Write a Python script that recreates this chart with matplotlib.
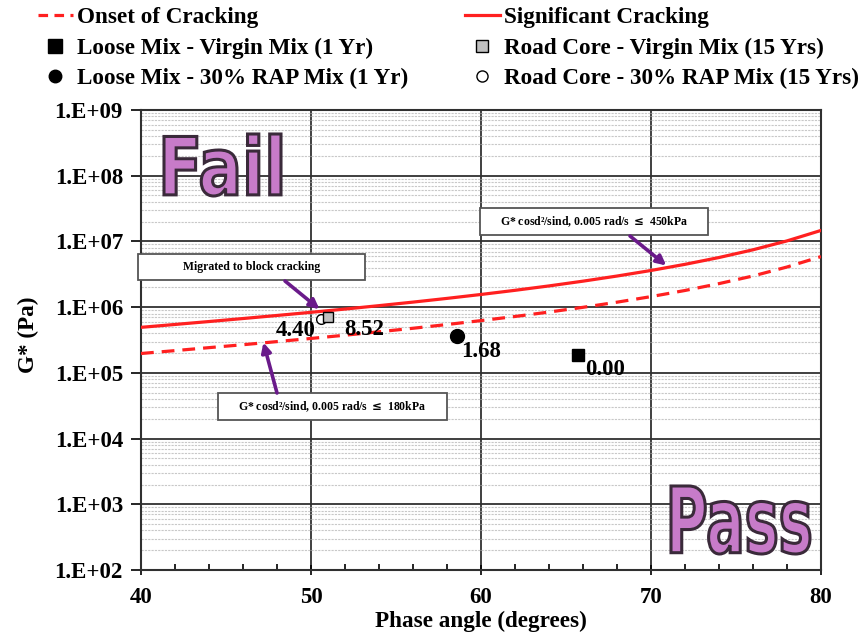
import math
import matplotlib
matplotlib.use("Agg")
import matplotlib.pyplot as plt
from matplotlib.lines import Line2D
from matplotlib.patches import Rectangle, PathPatch
from matplotlib.textpath import TextPath
from matplotlib.font_manager import FontProperties
from matplotlib.transforms import Affine2D, IdentityTransform
from matplotlib.ticker import FixedLocator, FuncFormatter, LogLocator, NullFormatter

# ---- data ----
phase = [40, 42, 44, 46, 48, 50, 52, 54, 56, 58, 60, 62, 64, 66, 68, 70, 72, 74, 76, 78, 80]
significant = [4.93e5, 5.45e5, 6.04e5, 6.71e5, 7.47e5, 8.34e5, 9.35e5, 1.054e6, 1.193e6, 1.359e6,
               1.559e6, 1.803e6, 2.104e6, 2.485e6, 2.974e6, 3.614e6, 4.482e6, 5.69e6, 7.46e6,
               1.019e7, 1.470e7]
onset = [1.97e5, 2.18e5, 2.42e5, 2.68e5, 2.99e5, 3.34e5, 3.74e5, 4.22e5, 4.77e5, 5.44e5,
         6.24e5, 7.21e5, 8.42e5, 9.94e5, 1.19e6, 1.446e6, 1.793e6, 2.28e6, 2.98e6, 4.08e6, 5.88e6]

loose_virgin = (65.7, 1.9e5)
loose_rap = (58.6, 3.6e5)
core_virgin = (51.0, 7.2e5)
core_rap = (50.6, 6.6e5)
labels_pts = ["0.00", "1.68", "8.52", "4.40"]

W, H = 865, 639
serif = ["Liberation Serif", "DejaVu Serif"]
plt.rcParams["font.family"] = serif
plt.rcParams["font.weight"] = "bold"
FS = 16.7

fig = plt.figure(figsize=(W / 100, H / 100), dpi=100)
ax = fig.add_axes([141 / W, 1 - 570 / H, (821 - 141) / W, (570 - 110) / H])

ax.set_xlim(40, 80)
ax.set_yscale("log")
ax.set_ylim(1e2, 1e9)

# grid
ax.yaxis.set_minor_locator(LogLocator(base=10, subs=range(2, 10), numticks=20))
ax.yaxis.set_minor_formatter(NullFormatter())
ax.grid(which="minor", axis="y", color="#c8c8c8", linestyle=(0, (2, 1)), linewidth=0.8)
ax.grid(which="major", axis="both", color="#303030", linewidth=1.3)
ax.xaxis.set_major_locator(FixedLocator([40, 50, 60, 70, 80]))
ax.xaxis.set_minor_locator(FixedLocator([x for x in range(42, 80, 2) if x % 10]))
ax.tick_params(axis="x", which="minor", direction="in", length=4, width=1.2)
ax.tick_params(axis="y", which="minor", length=0)
ax.tick_params(axis="both", which="major", length=7, width=1.2, labelsize=16.5)
ax.tick_params(axis="x", which="major", direction="inout", pad=9)
ax.tick_params(axis="y", which="major", direction="out", pad=6)
ax.yaxis.set_major_formatter(FuncFormatter(lambda v, p: "1.E+%02d" % round(math.log10(v))))
for s in ax.spines.values():
    s.set_color("#303030")
    s.set_linewidth(1.5)

# curves
ax.plot(phase, onset, color="#ff2020", linestyle=(0, (4, 2.5)), linewidth=2.3, zorder=3)
ax.plot(phase, significant, color="#ff2020", linewidth=2.3, zorder=3)

# points
ax.plot(*loose_virgin, marker="s", color="black", markersize=9, linestyle="none", zorder=4)
ax.plot(*loose_rap, marker="o", color="black", markersize=10, linestyle="none", zorder=4)
ax.plot(*core_rap, marker="o", mfc="white", mec="black", markersize=7, linestyle="none", zorder=4)
ax.plot(*core_virgin, marker="s", mfc="#c0c0c0", mec="black", markersize=7, linestyle="none", zorder=5)

lab_kw = dict(fontsize=16.5, fontweight="bold", zorder=6)
ax.annotate(labels_pts[0], loose_virgin, xytext=(5, -15), textcoords="offset points", **lab_kw)
ax.annotate(labels_pts[1], loose_rap, xytext=(3, -15), textcoords="offset points", **lab_kw)
ax.annotate(labels_pts[2], core_virgin, xytext=(12, -13), textcoords="offset points", **lab_kw)
ax.annotate(labels_pts[3], core_rap, xytext=(-33, -12), textcoords="offset points", **lab_kw)

# annotation boxes (axes-fraction geometry)
def fx(px):
    return (px - 141) / 680.0

def fy(py):
    return (570 - py) / 460.0

arrow = dict(arrowstyle="-|>", color="#6a1a8a", lw=2.6, mutation_scale=14, shrinkA=0, shrinkB=0)

def note(text, x0, y0, x1, y1, tail, head):
    ax.add_patch(Rectangle((fx(x0), fy(y1)), fx(x1) - fx(x0), fy(y0) - fy(y1),
                           transform=ax.transAxes, fc="white", ec="#555555", lw=1.3,
                           zorder=7, clip_on=False))
    ax.text((fx(x0) + fx(x1)) / 2, (fy(y0) + fy(y1)) / 2, text, transform=ax.transAxes,
            ha="center", va="center", fontsize=8.5, zorder=8)
    ax.annotate("", xy=head, xycoords="data", xytext=(fx(tail[0]), fy(tail[1])),
                textcoords="axes fraction", arrowprops=arrow, zorder=8)

note("Migrated to block cracking", 138, 254, 365, 280, (285, 281), (50.5, 9.3e5))
note(r"G* cosd²/sind, 0.005 rad/s $\leq$ 180kPa", 218, 393, 447, 420, (277, 393), (47.2, 2.9e5))
note(r"G* cosd²/sind, 0.005 rad/s $\leq$ 450kPa", 480, 208, 708, 235, (630, 236), (70.9, 4.3e6))

# Fail / Pass as outlined, condensed text paths placed in pixel boxes
fp_font = FontProperties(family="DejaVu Sans", weight="bold")

def big_word(word, left, top, right, bottom):
    tp = TextPath((0, 0), word, size=100, prop=fp_font)
    ext = tp.get_extents()
    sx = (right - left) / ext.width
    sy = (bottom - top) / ext.height
    tr = Affine2D().translate(-ext.x0, -ext.y0).scale(sx, sy).translate(left, H - bottom)
    fig.patches.append(PathPatch(tr.transform_path(tp), transform=IdentityTransform(),
                                 fc="#c77bc9", ec="#3a2a3a", lw=2.2, zorder=10))

big_word("Fail", 164, 134, 281, 196)
big_word("Pass", 671, 486, 810, 554)

ax.set_xlabel("Phase angle (degrees)", fontsize=FS, fontweight="bold", labelpad=2)
ax.set_ylabel("G* (Pa)", fontsize=FS, fontweight="bold")
ax.yaxis.set_label_coords(fx(39), fy(335))

# legend (two columns)
col1_h = [
    Line2D([], [], color="#ff2020", linestyle=(0, (3, 2)), linewidth=2.3),
    Line2D([], [], marker="s", color="black", linestyle="none", markersize=10),
    Line2D([], [], marker="o", color="black", linestyle="none", markersize=9),
]
col1_n = ["Onset of Cracking", "Loose Mix - Virgin Mix (1 Yr)", "Loose Mix - 30% RAP Mix (1 Yr)"]
col2_h = [
    Line2D([], [], color="#ff2020", linewidth=2.3),
    Line2D([], [], marker="s", mfc="#c0c0c0", mec="black", linestyle="none", markersize=9),
    Line2D([], [], marker="o", mfc="white", mec="black", linestyle="none", markersize=8),
]
col2_n = ["Significant Cracking", "Road Core - Virgin Mix (15 Yrs)", "Road Core - 30% RAP Mix (15 Yrs)"]
leg_kw = dict(loc="upper left", frameon=False, fontsize=FS, handlelength=1.5, handletextpad=0.2,
              labelspacing=0.4, borderpad=0, borderaxespad=0)
fig.legend(col1_h, col1_n, bbox_to_anchor=(38 / W, 1 - 7 / H), **leg_kw)
fig.legend(col2_h, col2_n, bbox_to_anchor=(465 / W, 1 - 7 / H), **leg_kw)

fig.savefig("out.png", dpi=100)
